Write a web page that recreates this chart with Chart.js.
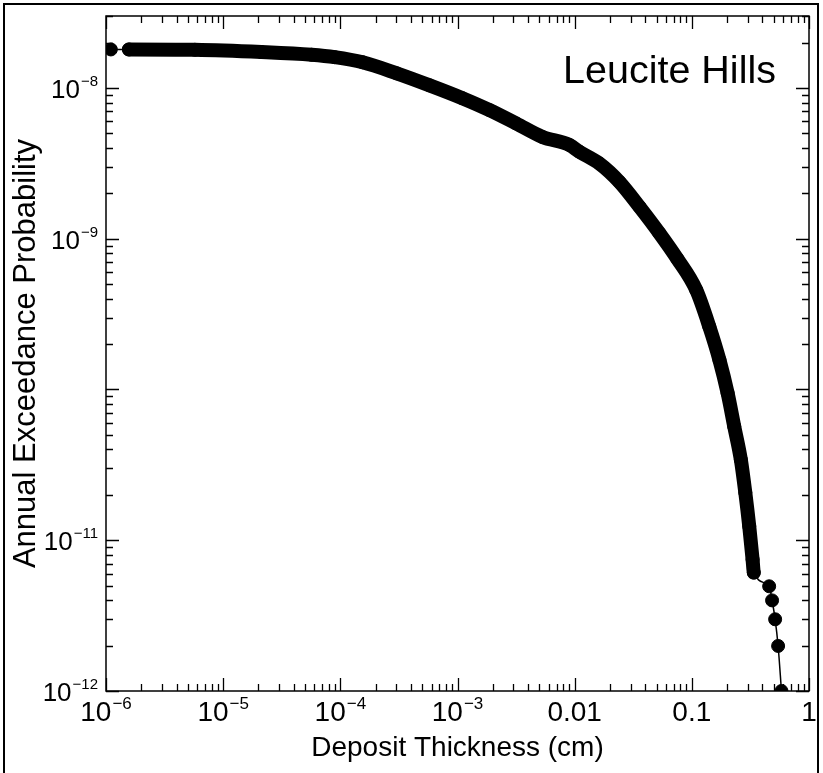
<!DOCTYPE html>
<html>
<head>
<meta charset="utf-8">
<script src="https://cdn.jsdelivr.net/npm/chart.js@4/dist/chart.umd.min.js"></script>
<style>
  html, body { margin: 0; padding: 0; background: #fff; }
  #wrap { position: relative; width: 823px; height: 773px; overflow: hidden; }
  #frame { position: absolute; left: 3px; top: 3px; width: 816px; height: 790px; border: 2px solid #000; box-sizing: border-box; pointer-events: none; }
  #c { position: absolute; left: 0; top: 0; }
  #label { position: absolute; left: 563px; top: 49px; font-family: "Liberation Sans", Arial, sans-serif; font-size: 39.5px; line-height: 40px; color: #000; white-space: nowrap; }
</style>
</head>
<body>
<div id="wrap">
  <canvas id="c" width="823" height="773"></canvas>
  <div id="frame"></div>
  <div id="label">Leucite Hills</div>
</div>
<script>
// ---- data ----
const thickness = [1.1e-6, 1.57e-6, 5.74e-6, 2.12e-5, 5.68e-5, 8.95e-5, 1.55e-4, 3.03e-4, 5.78e-4, 1.10e-3,
  1.88e-3, 3.17e-3, 5.31e-3, 9.04e-3, 1.10e-2, 1.63e-2, 2.41e-2, 3.57e-2, 5.28e-2, 7.52e-2,
  0.109, 0.141, 0.172, 0.202, 0.230, 0.262, 0.286, 0.309, 0.330, 0.338,
  0.457, 0.484, 0.514, 0.545, 0.582];
const probability = [1.80e-8, 1.80e-8, 1.79e-8, 1.73e-8, 1.66e-8, 1.60e-8, 1.48e-8, 1.25e-8, 1.04e-8, 8.55e-9,
  7.12e-9, 5.81e-9, 4.73e-9, 4.18e-9, 3.77e-9, 3.15e-9, 2.38e-9, 1.63e-9, 1.09e-9, 7.35e-10,
  4.57e-10, 2.61e-10, 1.57e-10, 9.46e-11, 5.69e-11, 3.42e-11, 2.07e-11, 1.24e-11, 7.45e-12, 6.11e-12,
  4.95e-12, 3.99e-12, 2.99e-12, 1.99e-12, 1.0e-12];
const lastDenseIndex = 29; // points after this are the sparse tail

const xTickValues = [1e-6, 1e-5, 1e-4, 1e-3, 1e-2, 1e-1, 1];
const xTickBase = ['10', '10', '10', '10', '0.01', '0.1', '1'];
const xTickExp = ['\u22126', '\u22125', '\u22124', '\u22123', '', '', ''];
const yTickValues = [1e-12, 1e-11, 1e-10, 1e-9, 1e-8];
const yTickBase = ['10', '10', '', '10', '10'];
const yTickExp = ['\u221212', '\u221211', '', '\u22129', '\u22128'];
const xTitle = 'Deposit Thickness (cm)';
const yTitle = 'Annual Exceedance Probability';
const xRange = [1e-6, 1];
const yRange = [1e-12, 3e-8];

const FONT = '"Liberation Sans", Arial, Helvetica, sans-serif';
const SUP = { '\u2212': '\u207B', '0': '\u2070', '1': '\u00B9', '2': '\u00B2', '3': '\u00B3', '4': '\u2074',
              '5': '\u2075', '6': '\u2076', '7': '\u2077', '8': '\u2078', '9': '\u2079' };
const toSup = s => s.split('').map(ch => SUP[ch] || ch).join('');

function drawLabel(ctx, base, exp, x, baseline, align, bs, es, rise) {
  ctx.font = bs + 'px ' + FONT;
  const wb = ctx.measureText(base).width;
  ctx.font = es + 'px ' + FONT;
  const we = exp ? ctx.measureText(exp).width + 1 : 0;
  const total = wb + we;
  const start = align === 'right' ? x - total : x - total / 2;
  ctx.font = bs + 'px ' + FONT;
  ctx.fillText(base, start, baseline);
  if (exp) {
    ctx.font = es + 'px ' + FONT;
    ctx.fillText(exp, start + wb + 1, baseline - rise);
  }
}

const frameTicks = {
  id: 'frameTicks',
  beforeDatasetsDraw(chart) {
    const { ctx, chartArea: a, scales: { x, y } } = chart;
    ctx.save();
    ctx.strokeStyle = '#000';
    ctx.lineWidth = 1.3;
    ctx.beginPath();
    const xe0 = Math.floor(Math.log10(x.min)), xe1 = Math.ceil(Math.log10(x.max));
    for (let e = xe0; e <= xe1; e++) {
      for (let m = 1; m <= 9; m++) {
        const v = m * Math.pow(10, e);
        if (v < x.min * 0.999 || v > x.max * 1.001) continue;
        const px = Math.round(x.getPixelForValue(v)) + 0.5;
        const L = m === 1 ? 13 : 7;
        ctx.moveTo(px, a.bottom); ctx.lineTo(px, a.bottom - L);
        ctx.moveTo(px, a.top); ctx.lineTo(px, a.top + L);
      }
    }
    const ye0 = Math.floor(Math.log10(y.min)), ye1 = Math.ceil(Math.log10(y.max));
    for (let e = ye0; e <= ye1; e++) {
      for (let m = 1; m <= 9; m++) {
        const v = m * Math.pow(10, e);
        if (v < y.min * 0.999 || v > y.max * 1.001) continue;
        const py = Math.round(y.getPixelForValue(v)) + 0.5;
        const L = m === 1 ? 13 : 7;
        ctx.moveTo(a.left, py); ctx.lineTo(a.left + L, py);
        ctx.moveTo(a.right, py); ctx.lineTo(a.right - L, py);
      }
    }
    ctx.stroke();
    ctx.lineWidth = 1.5;
    ctx.strokeRect(a.left, a.top, a.right - a.left, a.bottom - a.top);

    // tick labels (base + raised exponent), placed from the library's scales
    ctx.fillStyle = '#000';
    ctx.textBaseline = 'alphabetic';
    ctx.textAlign = 'left';
    x.ticks.forEach((t, i) => {
      drawLabel(ctx, xTickBase[i], xTickExp[i], x.getPixelForValue(t.value), a.bottom + 30, 'center', 28, 17, 12);
    });
    y.ticks.forEach((t, i) => {
      if (!yTickBase[i]) return;
      drawLabel(ctx, yTickBase[i], yTickExp[i], a.left - 8, y.getPixelForValue(t.value) + 10, 'right', 26, 15, 12);
    });
    ctx.restore();
  }
};

const points = thickness.map((t, i) => ({ x: t, y: probability[i] }));

new Chart(document.getElementById('c'), {
  type: 'scatter',
  data: {
    datasets: [{
      data: points,
      showLine: true,
      borderColor: '#000',
      backgroundColor: '#000',
      pointBackgroundColor: '#000',
      pointBorderColor: '#000',
      pointRadius: 6.5,
      pointBorderWidth: 1,
      borderWidth: 14,
      borderJoinStyle: 'round',
      borderCapStyle: 'round',
      cubicInterpolationMode: 'monotone',
      clip: 0,
      segment: {
        borderWidth: ctx => (ctx.p0DataIndex === 0 || ctx.p1DataIndex > lastDenseIndex) ? 1.5 : 14
      }
    }]
  },
  options: {
    responsive: false,
    animation: false,
    devicePixelRatio: 1,
    layout: { padding: { top: 16, right: 14, left: 0, bottom: 0 } },
    plugins: { legend: { display: false }, tooltip: { enabled: false } },
    scales: {
      x: {
        type: 'logarithmic', position: 'bottom', min: xRange[0], max: xRange[1],
        afterBuildTicks: s => { s.ticks = xTickValues.map(v => ({ value: v, major: true })); },
        afterFit: s => { s.height = 82; },
        grid: { display: false, drawTicks: false },
        border: { display: false },
        ticks: { display: false, autoSkip: false, maxRotation: 0, minRotation: 0,
                 callback: (v, i) => xTickBase[i] + toSup(xTickExp[i]) },
        title: { display: true, text: xTitle, color: '#000', font: { family: FONT, size: 28 },
                 padding: { top: 0, bottom: 8 } }
      },
      y: {
        type: 'logarithmic', position: 'left', min: yRange[0], max: yRange[1],
        afterBuildTicks: s => { s.ticks = yTickValues.map(v => ({ value: v, major: true })); },
        afterFit: s => { s.width = 106; },
        grid: { display: false, drawTicks: false },
        border: { display: false },
        ticks: { display: false, autoSkip: false,
                 callback: (v, i) => yTickBase[i] + toSup(yTickExp[i]) },
        title: { display: true, text: yTitle, color: '#000', font: { family: FONT, size: 31 },
                 padding: { top: 8, bottom: 0 } }
      }
    }
  },
  plugins: [frameTicks]
});
</script>
</body>
</html>
